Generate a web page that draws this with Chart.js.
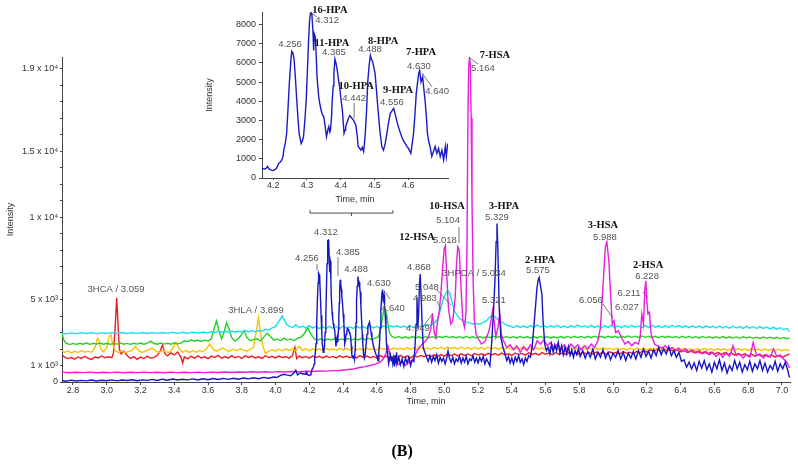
<!DOCTYPE html>
<html>
<head>
<meta charset="utf-8">
<title>Chromatogram (B)</title>
<script src="https://cdn.jsdelivr.net/npm/chart.js@4.4.1/dist/chart.umd.min.js"></script>
<style>
  html, body { margin: 0; padding: 0; background: #fff; }
  #wrap { position: relative; width: 798px; height: 464px; }
  #main { position: absolute; left: 0; top: 0; }
  #inset { position: absolute; left: 196px; top: 0; }
</style>
</head>
<body>
<div id="wrap">
  <canvas id="main" width="798" height="464"></canvas>
  <canvas id="inset" width="264" height="215"></canvas>
</div>
<script>
// ---- axis ticks ----
const timeTicks = [2.8, 3.0, 3.2, 3.4, 3.6, 3.8, 4.0, 4.2, 4.4, 4.6, 4.8, 5.0, 5.2, 5.4, 5.6, 5.8, 6.0, 6.2, 6.4, 6.6, 6.8, 7.0];
const intensityTicks = [0, 1000, 5000, 10000, 14000, 19000];
const intensityTickLabels = ['0', '1 x 10³', '5 x 10³', '1 x 10⁴', '1.5 x 10⁴', '1.9 x 10⁴'];
const insetTimeTicks = [4.2, 4.3, 4.4, 4.5, 4.6];
const insetIntensityTicks = [0, 1000, 2000, 3000, 4000, 5000, 6000, 7000, 8000];

// ---- traces: [time (min), intensity] ----
const redTrace = [[2.735,1650],[2.75,1500],[2.77,1420],[2.79,1480],[2.81,1380],[2.83,1520],[2.85,1430],[2.87,1560],[2.89,1440],[2.91,1370],[2.93,1510],[2.95,1460],[2.97,1580],[2.99,1470],[3.01,1530],[3.03,1480],[3.04,1750],[3.05,3300],[3.059,5100],[3.067,3500],[3.075,2000],[3.085,1700],[3.1,1880],[3.12,1620],[3.14,1430],[3.16,1540],[3.18,1370],[3.2,1510],[3.22,1420],[3.24,1560],[3.26,1450],[3.28,1490],[3.3,1620],[3.315,1850],[3.33,2250],[3.345,1720],[3.36,1580],[3.38,1760],[3.4,1640],[3.42,1820],[3.44,1500],[3.45,1150],[3.46,1520],[3.48,1400],[3.5,1560],[3.52,1450],[3.54,1590],[3.56,1460],[3.58,1530],[3.6,1420],[3.62,1570],[3.64,1480],[3.66,1610],[3.68,1440],[3.7,1540],[3.72,1450],[3.74,1600],[3.76,1470],[3.78,1550],[3.8,1430],[3.82,1590],[3.84,1490],[3.86,1570],[3.88,1460],[3.9,1530],[3.92,1430],[3.94,1590],[3.96,1480],[3.98,1560],[4.0,1460],[4.02,1570],[4.04,1490],[4.06,1540],[4.08,1450],[4.1,1590],[4.115,2100],[4.125,1420],[4.14,1570],[4.16,1470],[4.18,1550],[4.2,1450],[4.22,1580],[4.24,1490],[4.26,1560],[4.28,1460],[4.3,1570],[4.32,1480],[4.34,1550],[4.36,1460],[4.38,1590],[4.4,1490],[4.42,1570],[4.44,1470],[4.46,1560],[4.48,1460],[4.5,1600],[4.52,1490],[4.54,1570],[4.56,1470],[4.58,1550],[4.6,1460],[4.62,1610],[4.64,1490],[4.66,1570],[4.68,1410],[4.7,1560],[4.72,1470],[4.74,1610],[4.76,1490],[4.78,1570],[4.8,1460],[4.82,1600],[4.84,1510],[4.86,1610],[4.88,1530],[4.9,1630],[4.92,1540],[4.94,1650],[4.96,1550],[4.98,1660],[5.0,1570],[5.02,1710],[5.04,1590],[5.06,1690],[5.08,1580],[5.1,1710],[5.12,1610],[5.14,1700],[5.16,1590],[5.18,1730],[5.2,1630],[5.22,1710],[5.24,1610],[5.26,1740],[5.28,1640],[5.3,1720],[5.32,1620],[5.34,1750],[5.36,1650],[5.38,1710],[5.4,1610],[5.42,1760],[5.44,1660],[5.46,1730],[5.48,1630],[5.5,1770],[5.52,1670],[5.54,1740],[5.56,1640],[5.58,1780],[5.6,1680],[5.62,1750],[5.64,1650],[5.66,1790],[5.68,1690],[5.7,1760],[5.72,1660],[5.74,1800],[5.76,1700],[5.78,1770],[5.8,1670],[5.82,1810],[5.84,1710],[5.86,1780],[5.88,1680],[5.9,1820],[5.92,1720],[5.94,1790],[5.96,1690],[5.98,1830],[6.0,1730],[6.02,1800],[6.04,1700],[6.06,1840],[6.08,1740],[6.1,1810],[6.12,1710],[6.14,1860],[6.16,1770],[6.18,1910],[6.2,1810],[6.22,1960],[6.24,1850],[6.26,1990],[6.28,1870],[6.3,2010],[6.32,1890],[6.34,1970],[6.36,1850],[6.38,1950],[6.4,1830],[6.42,1910],[6.44,1790],[6.46,1890],[6.48,1770],[6.5,1860],[6.52,1740],[6.54,1830],[6.56,1710],[6.58,1810],[6.6,1690],[6.62,1790],[6.64,1670],[6.66,1770],[6.68,1650],[6.7,1750],[6.72,1630],[6.74,1730],[6.76,1610],[6.78,1710],[6.8,1590],[6.82,1690],[6.84,1570],[6.86,1670],[6.88,1550],[6.9,1650],[6.92,1530],[6.94,1630],[6.96,1510],[6.98,1610],[7.0,1490],[7.02,1590],[7.045,1700]];

const yellowTrace = [[2.735,1900],[2.75,1790],[2.77,1880],[2.79,1760],[2.81,1860],[2.83,1790],[2.85,1910],[2.87,1810],[2.89,1870],[2.91,1800],[2.93,2080],[2.945,2650],[2.955,2480],[2.965,2000],[2.98,1840],[3.0,2060],[3.015,2750],[3.025,2860],[3.035,2300],[3.05,1900],[3.07,1790],[3.09,1880],[3.11,1770],[3.13,1860],[3.15,1920],[3.17,2150],[3.19,1900],[3.21,1790],[3.23,1880],[3.25,1960],[3.27,2060],[3.29,1870],[3.31,1790],[3.33,1910],[3.35,1840],[3.37,1790],[3.39,2010],[3.41,2420],[3.43,1990],[3.45,1810],[3.47,1910],[3.49,1790],[3.51,1890],[3.53,1810],[3.55,1910],[3.57,1830],[3.59,2010],[3.61,2300],[3.63,1990],[3.65,1870],[3.67,1960],[3.69,2060],[3.71,1910],[3.73,1870],[3.75,1990],[3.77,1890],[3.79,2010],[3.81,1930],[3.83,1870],[3.85,1970],[3.87,2120],[3.885,3000],[3.899,3900],[3.91,3000],[3.925,2200],[3.94,1740],[3.96,1860],[3.98,1960],[4.0,1870],[4.02,1990],[4.04,1890],[4.06,2010],[4.08,1910],[4.1,2000],[4.12,1890],[4.14,2170],[4.16,1910],[4.18,2010],[4.2,1890],[4.22,2030],[4.24,1930],[4.26,2010],[4.28,1910],[4.3,2030],[4.32,1940],[4.34,2010],[4.36,1920],[4.38,2040],[4.4,1940],[4.42,2030],[4.44,1930],[4.46,2050],[4.48,1950],[4.5,2010],[4.52,1930],[4.54,2060],[4.56,1960],[4.58,2030],[4.6,1940],[4.62,2070],[4.64,1970],[4.66,2050],[4.68,1950],[4.7,2070],[4.72,1980],[4.74,2060],[4.76,1960],[4.78,2090],[4.8,1990],[4.82,2070],[4.84,1970],[4.86,2090],[4.88,1990],[4.9,2080],[4.92,1980],[4.94,2100],[4.96,2000],[4.98,2110],[5.0,2010],[5.02,2120],[5.04,2020],[5.06,2100],[5.08,2000],[5.1,2110],[5.12,2010],[5.14,2090],[5.16,1990],[5.18,2100],[5.2,2000],[5.22,2090],[5.24,1990],[5.26,2110],[5.28,2010],[5.3,2090],[5.32,1990],[5.34,2100],[5.36,2000],[5.38,2080],[5.4,1980],[5.42,2090],[5.44,1990],[5.46,2070],[5.48,1970],[5.5,2080],[5.52,1980],[5.54,2090],[5.56,1990],[5.58,2070],[5.6,1970],[5.62,2080],[5.64,1980],[5.66,2060],[5.68,1960],[5.7,2070],[5.72,1970],[5.74,2080],[5.76,1980],[5.78,2060],[5.8,1960],[5.82,2070],[5.84,1970],[5.86,2050],[5.88,1950],[5.9,2060],[5.92,1960],[5.94,2070],[5.96,1970],[5.98,2050],[6.0,1950],[6.02,2060],[6.04,1960],[6.06,2040],[6.08,1940],[6.1,2050],[6.12,1950],[6.14,2060],[6.16,1960],[6.18,2040],[6.2,1940],[6.22,2050],[6.24,1950],[6.26,2030],[6.28,1930],[6.3,2040],[6.32,1940],[6.34,2050],[6.36,1950],[6.38,2030],[6.4,1930],[6.42,2040],[6.44,1940],[6.46,2020],[6.48,1920],[6.5,2030],[6.52,1930],[6.54,2040],[6.56,1940],[6.58,2020],[6.6,1920],[6.62,2030],[6.64,1930],[6.66,2010],[6.68,1910],[6.7,2020],[6.72,1920],[6.74,2030],[6.76,1930],[6.78,2010],[6.8,1910],[6.82,2020],[6.84,1920],[6.86,2000],[6.88,1900],[6.9,2010],[6.92,1910],[6.94,2000],[6.96,1900],[6.98,1990],[7.0,1890],[7.02,1980],[7.045,1880]];

const greenTrace = [[2.735,2950],[2.745,2550],[2.76,2350],[2.78,2270],[2.8,2340],[2.82,2280],[2.84,2350],[2.86,2290],[2.88,2360],[2.9,2280],[2.92,2340],[2.94,2300],[2.96,2360],[2.98,2290],[3.0,2350],[3.02,2280],[3.04,2340],[3.06,2300],[3.08,2370],[3.1,2290],[3.12,2340],[3.14,2280],[3.16,2350],[3.18,2300],[3.2,2360],[3.22,2290],[3.24,2350],[3.26,2480],[3.28,2330],[3.3,2290],[3.32,2360],[3.34,2300],[3.36,2350],[3.38,2290],[3.4,2360],[3.42,2310],[3.44,2360],[3.46,2500],[3.48,2450],[3.5,2560],[3.52,2470],[3.54,2540],[3.56,2460],[3.58,2550],[3.6,2480],[3.62,2620],[3.635,3200],[3.65,3700],[3.665,3100],[3.68,2620],[3.695,3000],[3.71,3600],[3.725,3200],[3.74,2700],[3.76,2480],[3.78,2620],[3.8,2900],[3.815,3100],[3.83,2700],[3.85,2500],[3.87,2580],[3.89,2620],[3.91,2490],[3.93,2720],[3.95,2960],[3.97,2760],[3.99,2540],[4.01,2610],[4.03,2500],[4.05,2660],[4.07,2540],[4.09,2610],[4.11,2500],[4.13,2660],[4.15,2710],[4.17,2920],[4.19,3300],[4.21,2900],[4.23,2610],[4.25,2540],[4.27,2620],[4.29,2520],[4.31,2600],[4.33,2540],[4.35,2630],[4.37,2530],[4.39,2610],[4.41,2550],[4.43,2640],[4.45,2540],[4.47,2620],[4.49,2550],[4.51,2650],[4.53,2560],[4.55,2640],[4.57,2570],[4.59,2660],[4.61,2750],[4.625,3300],[4.635,4000],[4.645,4550],[4.655,4300],[4.665,3600],[4.675,3000],[4.69,2760],[4.71,2680],[4.73,2760],[4.75,2660],[4.77,2740],[4.79,2650],[4.81,2750],[4.83,2670],[4.85,2740],[4.87,2660],[4.89,2760],[4.91,2680],[4.93,2750],[4.95,2670],[4.97,2760],[4.99,2690],[5.01,2770],[5.03,2690],[5.05,2760],[5.07,2680],[5.09,2750],[5.11,2670],[5.13,2760],[5.15,2680],[5.17,2740],[5.19,2660],[5.21,2750],[5.23,2670],[5.25,2760],[5.27,2690],[5.29,2780],[5.31,2700],[5.33,2770],[5.35,2690],[5.37,2760],[5.39,2680],[5.41,2750],[5.43,2670],[5.45,2760],[5.47,2680],[5.49,2740],[5.51,2660],[5.53,2750],[5.55,2670],[5.57,2760],[5.59,2680],[5.61,2750],[5.63,2670],[5.65,2740],[5.67,2660],[5.69,2750],[5.71,2670],[5.73,2760],[5.75,2680],[5.77,2770],[5.79,2690],[5.81,2760],[5.83,2680],[5.85,2770],[5.87,2690],[5.89,2780],[5.91,2700],[5.93,2770],[5.95,2690],[5.97,2780],[5.99,2700],[6.01,2770],[6.03,2690],[6.05,2780],[6.07,2700],[6.09,2790],[6.11,2710],[6.13,2780],[6.15,2700],[6.17,2790],[6.19,2710],[6.21,2780],[6.23,2700],[6.25,2770],[6.27,2690],[6.29,2780],[6.31,2700],[6.33,2770],[6.35,2690],[6.37,2760],[6.39,2680],[6.41,2770],[6.43,2690],[6.45,2760],[6.47,2680],[6.49,2750],[6.51,2670],[6.53,2760],[6.55,2680],[6.57,2750],[6.59,2670],[6.61,2740],[6.63,2660],[6.65,2750],[6.67,2670],[6.69,2740],[6.71,2660],[6.73,2730],[6.75,2650],[6.77,2740],[6.79,2660],[6.81,2730],[6.83,2650],[6.85,2720],[6.87,2640],[6.89,2730],[6.91,2650],[6.93,2720],[6.95,2640],[6.97,2710],[6.99,2630],[7.01,2700],[7.03,2620],[7.045,2680]];

const cyanTrace = [[2.735,2960],[2.76,2920],[2.79,2980],[2.82,2930],[2.85,2990],[2.88,2940],[2.91,2990],[2.94,2930],[2.97,2980],[3.0,2940],[3.03,2990],[3.06,2950],[3.09,3000],[3.12,2940],[3.15,2990],[3.18,2950],[3.21,3000],[3.24,2940],[3.27,2990],[3.3,2950],[3.33,3000],[3.36,2950],[3.39,3010],[3.42,2960],[3.45,3010],[3.48,2960],[3.51,3020],[3.54,2970],[3.57,3020],[3.6,2980],[3.62,3060],[3.64,2990],[3.66,3080],[3.68,3000],[3.7,3070],[3.72,3010],[3.74,3090],[3.76,3020],[3.78,3080],[3.8,3030],[3.82,3120],[3.84,3050],[3.86,3110],[3.88,3040],[3.9,3120],[3.92,3080],[3.94,3200],[3.96,3150],[3.98,3280],[4.0,3350],[4.015,3600],[4.03,3850],[4.04,4000],[4.05,3800],[4.065,3500],[4.08,3380],[4.1,3300],[4.12,3460],[4.14,3300],[4.16,3380],[4.18,3270],[4.2,3420],[4.22,3280],[4.24,3360],[4.26,3230],[4.28,3350],[4.3,3240],[4.32,3370],[4.34,3260],[4.36,3350],[4.38,3240],[4.4,3380],[4.42,3260],[4.44,3340],[4.46,3250],[4.48,3370],[4.5,3270],[4.52,3360],[4.54,3250],[4.56,3380],[4.58,3280],[4.6,3370],[4.62,3260],[4.64,3400],[4.66,3300],[4.68,3420],[4.7,3330],[4.72,3410],[4.74,3310],[4.76,3400],[4.78,3300],[4.8,3380],[4.82,3290],[4.84,3330],[4.86,3380],[4.88,3420],[4.9,3480],[4.92,3450],[4.94,3560],[4.96,3800],[4.975,4300],[4.99,4900],[5.005,5300],[5.02,5550],[5.03,5450],[5.045,4900],[5.06,4300],[5.075,4050],[5.09,3850],[5.11,3720],[5.13,3640],[5.15,3580],[5.17,3520],[5.19,3540],[5.21,3500],[5.23,3620],[5.25,3720],[5.27,3950],[5.29,4050],[5.31,3850],[5.33,3700],[5.35,3560],[5.37,3450],[5.39,3380],[5.41,3300],[5.43,3420],[5.45,3310],[5.47,3400],[5.49,3290],[5.51,3420],[5.53,3320],[5.55,3450],[5.57,3330],[5.59,3420],[5.61,3300],[5.63,3410],[5.65,3320],[5.67,3440],[5.69,3310],[5.71,3400],[5.73,3290],[5.75,3420],[5.77,3320],[5.79,3450],[5.81,3330],[5.83,3410],[5.85,3300],[5.87,3430],[5.89,3310],[5.91,3400],[5.93,3290],[5.95,3420],[5.97,3310],[5.99,3430],[6.01,3320],[6.03,3400],[6.05,3290],[6.07,3420],[6.09,3310],[6.11,3440],[6.13,3320],[6.15,3400],[6.17,3300],[6.19,3420],[6.21,3310],[6.23,3430],[6.25,3320],[6.27,3410],[6.29,3300],[6.31,3420],[6.33,3310],[6.35,3440],[6.37,3330],[6.39,3420],[6.41,3300],[6.43,3400],[6.45,3290],[6.47,3410],[6.49,3300],[6.51,3390],[6.53,3280],[6.55,3400],[6.57,3290],[6.59,3380],[6.61,3270],[6.63,3390],[6.65,3280],[6.67,3370],[6.69,3260],[6.71,3380],[6.73,3270],[6.75,3360],[6.77,3250],[6.79,3370],[6.81,3260],[6.83,3350],[6.85,3240],[6.87,3360],[6.89,3250],[6.91,3330],[6.93,3220],[6.95,3310],[6.97,3200],[6.99,3290],[7.01,3180],[7.03,3250],[7.045,3050]];

const magentaTrace = [[2.735,600],[2.78,560],[2.82,590],[2.86,570],[2.9,600],[2.94,560],[2.98,590],[3.02,570],[3.06,600],[3.1,560],[3.14,590],[3.18,570],[3.22,600],[3.26,570],[3.3,590],[3.34,560],[3.38,600],[3.42,570],[3.46,590],[3.5,570],[3.54,600],[3.58,570],[3.62,600],[3.66,580],[3.7,610],[3.74,580],[3.78,610],[3.82,590],[3.86,620],[3.9,590],[3.94,620],[3.98,600],[4.02,630],[4.06,610],[4.1,640],[4.14,620],[4.18,650],[4.22,640],[4.26,670],[4.3,660],[4.34,690],[4.38,700],[4.42,740],[4.46,790],[4.5,880],[4.53,930],[4.56,1000],[4.59,1080],[4.62,1200],[4.64,1420],[4.655,1750],[4.665,2200],[4.675,1800],[4.69,1350],[4.71,1200],[4.73,1050],[4.75,1250],[4.77,1000],[4.79,1200],[4.81,1280],[4.83,1700],[4.85,2100],[4.87,2300],[4.89,2500],[4.905,2700],[4.92,3200],[4.93,4130],[4.94,3000],[4.95,2700],[4.96,3700],[4.97,4300],[4.98,5400],[4.992,7200],[5.0,8100],[5.006,8270],[5.014,6600],[5.024,4520],[5.038,3510],[5.05,3710],[5.065,5200],[5.073,7300],[5.08,8200],[5.088,8000],[5.1,5520],[5.11,3710],[5.12,3310],[5.128,4200],[5.134,8000],[5.139,15000],[5.144,19000],[5.149,19650],[5.154,19300],[5.159,16000],[5.164,11000],[5.171,6000],[5.178,3800],[5.188,2900],[5.2,2650],[5.22,2300],[5.24,2450],[5.25,2700],[5.265,3100],[5.278,3800],[5.286,4350],[5.295,3700],[5.305,2750],[5.318,3300],[5.328,4150],[5.338,2900],[5.35,2500],[5.37,2090],[5.39,2250],[5.41,1950],[5.43,2200],[5.45,1800],[5.47,2150],[5.49,1900],[5.51,2250],[5.53,1950],[5.55,2500],[5.57,2300],[5.59,2550],[5.61,2200],[5.63,2400],[5.65,2050],[5.67,2300],[5.69,2000],[5.71,2250],[5.73,1950],[5.75,2300],[5.77,2050],[5.79,2250],[5.81,1950],[5.83,2200],[5.85,2000],[5.87,2300],[5.89,2100],[5.91,2500],[5.925,3300],[5.942,6140],[5.954,8170],[5.963,8480],[5.975,7300],[5.986,5130],[5.995,3510],[6.005,3710],[6.015,3000],[6.03,3110],[6.05,2700],[6.07,2300],[6.09,2450],[6.11,2200],[6.13,2400],[6.15,2300],[6.16,2700],[6.17,4130],[6.18,3510],[6.188,5600],[6.194,6140],[6.2,4900],[6.206,4130],[6.215,4230],[6.225,2900],[6.245,2300],[6.27,2150],[6.29,2050],[6.31,2200],[6.33,1950],[6.35,2100],[6.37,1900],[6.39,2050],[6.41,1850],[6.43,2000],[6.45,1800],[6.47,1950],[6.49,1750],[6.51,1900],[6.53,1700],[6.55,1850],[6.57,1650],[6.59,1800],[6.61,1550],[6.63,1750],[6.65,1500],[6.67,1800],[6.69,1550],[6.71,2200],[6.73,1600],[6.75,1700],[6.77,1450],[6.79,1650],[6.81,1500],[6.83,2400],[6.85,1600],[6.87,1700],[6.89,1450],[6.91,1650],[6.93,1500],[6.95,2000],[6.97,1550],[6.99,1650],[7.01,1400],[7.03,1200],[7.045,850]];

const blueStart = [[2.735,90],[2.76,50],[2.79,110],[2.82,60],[2.85,100],[2.88,70],[2.91,120],[2.94,60],[2.97,110],[3.0,80],[3.03,130],[3.06,70],[3.09,120],[3.12,90],[3.15,140],[3.18,80],[3.21,130],[3.24,100],[3.27,160],[3.3,90],[3.33,170],[3.36,110],[3.39,180],[3.42,120],[3.45,170],[3.48,130],[3.51,190],[3.54,120],[3.57,200],[3.6,140],[3.63,210],[3.66,150],[3.69,220],[3.72,160],[3.75,230],[3.78,170],[3.81,240],[3.84,190],[3.87,260],[3.9,200],[3.93,280],[3.96,230],[3.99,300],[4.01,280],[4.03,400],[4.05,470],[4.07,420],[4.09,380],[4.11,560],[4.12,720],[4.13,430],[4.15,560],[4.16,480]];

// 4.17 - 4.72 min window, also shown enlarged in the inset
const insetTrace = [[4.167,500],[4.175,470],[4.18,510],[4.183,600],[4.19,450],[4.195,410],[4.2,390],[4.205,430],[4.21,500],[4.216,750],[4.222,850],[4.225,930],[4.229,1100],[4.232,1500],[4.236,1800],[4.24,2330],[4.244,3600],[4.248,4930],[4.252,6000],[4.255,6600],[4.259,6500],[4.262,6200],[4.266,5200],[4.27,4050],[4.274,3000],[4.277,2330],[4.283,1800],[4.287,1950],[4.29,2150],[4.294,3000],[4.298,4050],[4.302,5800],[4.305,7170],[4.308,8200],[4.31,8560],[4.313,8600],[4.315,8450],[4.318,7600],[4.32,6650],[4.322,7500],[4.325,7340],[4.328,6200],[4.33,5270],[4.335,4230],[4.338,3900],[4.342,3540],[4.346,3300],[4.35,3190],[4.354,2700],[4.358,2150],[4.362,2500],[4.365,2680],[4.368,2400],[4.37,2500],[4.373,3200],[4.375,4050],[4.378,4800],[4.38,5440],[4.383,6200],[4.386,6000],[4.39,5610],[4.393,5200],[4.397,4750],[4.401,4100],[4.405,3540],[4.41,2330],[4.413,2500],[4.415,2680],[4.419,2900],[4.423,3100],[4.427,3250],[4.43,3190],[4.434,3100],[4.438,3020],[4.441,2900],[4.445,2760],[4.449,2200],[4.452,1640],[4.456,1550],[4.46,1450],[4.464,1600],[4.468,1380],[4.471,1900],[4.473,2330],[4.477,3600],[4.48,4930],[4.484,5800],[4.488,6390],[4.491,6200],[4.495,6040],[4.499,5700],[4.502,5440],[4.506,4600],[4.51,3710],[4.514,2900],[4.517,2330],[4.522,1630],[4.527,1450],[4.532,1800],[4.537,2330],[4.542,2900],[4.547,3370],[4.552,3500],[4.557,3630],[4.561,3370],[4.566,3000],[4.571,2670],[4.576,2400],[4.581,2150],[4.586,1950],[4.591,1800],[4.596,1650],[4.601,1540],[4.608,1280],[4.612,1800],[4.616,2330],[4.62,3300],[4.624,4400],[4.628,5000],[4.631,5440],[4.634,5610],[4.638,5000],[4.643,5270],[4.646,4700],[4.65,4050],[4.654,3200],[4.657,2330],[4.661,1900],[4.665,1640],[4.67,1120],[4.675,1380],[4.68,1640],[4.685,1280],[4.69,1540],[4.695,1120],[4.7,1450],[4.705,940],[4.71,1640],[4.713,1120],[4.717,1800]];

const blueEnd = [[4.72,1100],[4.73,1500],[4.74,1050],[4.75,1400],[4.76,950],[4.77,1450],[4.78,1150],[4.79,1500],[4.8,1000],[4.81,1350],[4.82,1250],[4.826,2090],[4.833,3500],[4.838,5130],[4.843,3300],[4.848,4200],[4.853,6000],[4.857,6550],[4.862,5400],[4.868,3700],[4.875,2090],[4.885,1780],[4.895,1500],[4.905,1250],[4.915,1600],[4.925,1200],[4.935,1550],[4.945,1300],[4.955,1650],[4.965,1150],[4.975,1500],[4.985,1250],[4.995,1450],[5.005,1100],[5.015,1500],[5.022,1880],[5.03,1450],[5.04,1200],[5.05,1500],[5.06,1100],[5.07,1400],[5.08,1250],[5.09,1550],[5.1,1150],[5.11,1450],[5.12,1200],[5.13,1550],[5.14,1100],[5.15,1400],[5.16,1300],[5.17,1600],[5.18,1200],[5.19,1450],[5.2,1150],[5.21,1500],[5.22,1250],[5.23,1550],[5.24,1100],[5.25,1400],[5.26,1200],[5.27,970],[5.28,2300],[5.29,4000],[5.3,6140],[5.307,8500],[5.312,9600],[5.317,8170],[5.325,4520],[5.335,2700],[5.345,2200],[5.36,1680],[5.37,1300],[5.38,1550],[5.39,1150],[5.4,1450],[5.41,1100],[5.42,1500],[5.43,1250],[5.44,1600],[5.45,1200],[5.46,1400],[5.47,1050],[5.48,1450],[5.49,1250],[5.5,1600],[5.51,1500],[5.52,2090],[5.53,3300],[5.54,4520],[5.548,5600],[5.555,6140],[5.562,6340],[5.57,5800],[5.578,5330],[5.585,3710],[5.595,2300],[5.605,1900],[5.615,2090],[5.625,1700],[5.635,2300],[5.645,1800],[5.655,2250],[5.665,1900],[5.675,2400],[5.685,1750],[5.695,2200],[5.705,1650],[5.715,2100],[5.725,1700],[5.735,2150],[5.745,1600],[5.755,1950],[5.765,1500],[5.775,1900],[5.785,1650],[5.795,2000],[5.805,1550],[5.82,1900],[5.835,1450],[5.85,1850],[5.865,1500],[5.88,2000],[5.895,1400],[5.91,1800],[5.925,1500],[5.94,1950],[5.955,1450],[5.97,1800],[5.985,1350],[6.0,1750],[6.015,1500],[6.03,1900],[6.045,1400],[6.06,1800],[6.075,1300],[6.09,1750],[6.105,1450],[6.12,1850],[6.135,1400],[6.15,1900],[6.165,1500],[6.18,2000],[6.195,1550],[6.21,1850],[6.225,1450],[6.24,1950],[6.255,1600],[6.27,2100],[6.285,1650],[6.3,2000],[6.315,1700],[6.33,2150],[6.345,1600],[6.36,1900],[6.375,1500],[6.39,1800],[6.405,1250],[6.42,1350],[6.435,900],[6.45,1200],[6.465,800],[6.48,1150],[6.495,700],[6.51,1250],[6.525,850],[6.54,1300],[6.555,750],[6.57,1100],[6.585,600],[6.6,1200],[6.615,800],[6.63,1350],[6.645,700],[6.66,1150],[6.675,550],[6.69,1000],[6.705,700],[6.72,1300],[6.735,800],[6.75,1200],[6.765,600],[6.78,1050],[6.795,750],[6.81,1250],[6.825,650],[6.84,1100],[6.855,800],[6.87,1300],[6.885,700],[6.9,1150],[6.915,600],[6.93,1000],[6.945,750],[6.96,1250],[6.975,650],[6.99,1100],[7.005,800],[7.02,1200],[7.035,700],[7.045,260]];

const blueTrace = blueStart.concat(insetTrace, blueEnd);

// ---- peak annotations: [time, intensity, text, bold] ----
const mainLabels = [
  [3.055, 5636, '3HCA / 3.059'], [3.884, 4363, '3HLA / 3.899'],
  [4.186, 7514, '4.256'], [4.299, 9090, '4.312'], [4.429, 7878, '4.385'], [4.477, 6848, '4.488'],
  [4.613, 6000, '4.630'], [4.696, 4484, '4.640'], [4.85, 6969, '4.868'], [4.897, 5757, '5.048'],
  [4.885, 5090, '4.983'], [4.844, 3272, '4.949'],
  [4.838, 8787, '12-HSA', true], [5.004, 8605, '5.018'],
  [5.016, 10666, '10-HSA', true], [5.022, 9817, '5.104'],
  [5.176, 6605, '3HPDA / 5.034'],
  [5.30, 19816, '7-HSA', true], [5.229, 19028, '5.164'],
  [5.353, 10666, '3-HPA', true], [5.312, 9999, '5.329'], [5.294, 4969, '5.321'],
  [5.567, 7393, '2-HPA', true], [5.555, 6787, '5.575'],
  [5.94, 9514, '3-HSA', true], [5.952, 8787, '5.988'], [5.869, 4969, '6.056'], [6.082, 4545, '6.027'],
  [6.207, 7090, '2-HSA', true], [6.201, 6424, '6.228'], [6.094, 5393, '6.211']
];
const mainLeaders = [
  [4.246, 7151, 4.246, 6787], [4.37, 7575, 4.37, 6424], [4.643, 5515, 4.678, 5030],
  [4.874, 3333, 4.933, 4181], [4.957, 5575, 5.04, 4666], [4.957, 4909, 4.98, 4424],
  [5.087, 9393, 5.087, 8423], [5.152, 19634, 5.2, 19271], [5.94, 4727, 5.999, 3878],
  [6.177, 5454, 6.207, 5090]
];
const insetLabels = [
  [4.368, 8754, '16-HPA', true], [4.360, 8233, '4.312'], [4.250, 6983, '4.256'],
  [4.374, 7035, '11-HPA', true], [4.380, 6566, '4.385'],
  [4.526, 7139, '8-HPA', true], [4.487, 6722, '4.488'],
  [4.446, 4794, '10-HPA', true], [4.440, 4169, '4.442'],
  [4.570, 4586, '9-HPA', true], [4.552, 3960, '4.556'],
  [4.638, 6566, '7-HPA', true], [4.632, 5836, '4.630'], [4.686, 4534, '4.640']
];
const insetLeaders = [
  [4.44, 3908, 4.44, 3127], [4.641, 5472, 4.671, 4742], [4.309, 8650, 4.330, 8390]
];

const sans = '"Liberation Sans", Arial, sans-serif';
const serif = '"Liberation Serif", "Times New Roman", serif';
const axisColor = '#444';
const textColor = '#333';

const peakLabels = {
  id: 'peakLabels',
  afterDatasetsDraw(chart, args, opts) {
    const { ctx, scales: { x, y } } = chart;
    ctx.save();
    ctx.strokeStyle = '#555';
    ctx.lineWidth = 0.8;
    (opts.leaders || []).forEach(([t1, v1, t2, v2]) => {
      ctx.beginPath();
      ctx.moveTo(x.getPixelForValue(t1), y.getPixelForValue(v1));
      ctx.lineTo(x.getPixelForValue(t2), y.getPixelForValue(v2));
      ctx.stroke();
    });
    if (opts.bracket) {
      const [t1, t2, v] = opts.bracket;
      const x1 = x.getPixelForValue(t1), x2 = x.getPixelForValue(t2), yy = y.getPixelForValue(v);
      const xm = (x1 + x2) / 2;
      ctx.strokeStyle = '#222';
      ctx.beginPath();
      ctx.moveTo(x1, yy - 3); ctx.lineTo(x1, yy); ctx.lineTo(x2, yy); ctx.lineTo(x2, yy - 3);
      ctx.moveTo(xm, yy); ctx.lineTo(xm, yy + 3);
      ctx.stroke();
    }
    ctx.textAlign = 'center';
    ctx.textBaseline = 'middle';
    (opts.labels || []).forEach(([t, v, text, bold]) => {
      ctx.font = bold ? 'bold 10.5px ' + serif : '9.5px ' + sans;
      ctx.fillStyle = bold ? '#111' : '#555';
      ctx.fillText(text, x.getPixelForValue(t), y.getPixelForValue(v));
    });
    if (opts.caption) {
      ctx.font = 'bold 16px ' + serif;
      ctx.fillStyle = '#000';
      ctx.fillText(opts.caption, chart.width * 0.504, chart.height - 12);
    }
    ctx.restore();
  }
};

function trace(points, color) {
  return {
    data: points.map(([x, y]) => ({ x, y })),
    borderColor: color,
    borderWidth: 1.4,
    pointRadius: 0,
    tension: 0,
    fill: false
  };
}

const baseFont = { family: sans, size: 9 };

// main chromatogram
new Chart(document.getElementById('main'), {
  type: 'line',
  data: {
    datasets: [
      trace(blueTrace, '#1616c2'),
      trace(magentaTrace, '#e81ede'),
      trace(cyanTrace, '#14dfec'),
      trace(greenTrace, '#22d122'),
      trace(yellowTrace, '#f9c200'),
      trace(redTrace, '#ee1c24')
    ]
  },
  options: {
    responsive: false,
    animation: false,
    layout: { padding: { left: 0, right: 8, top: 57, bottom: 0 } },
    plugins: {
      legend: { display: false },
      tooltip: { enabled: false },
      peakLabels: { labels: mainLabels, leaders: mainLeaders, bracket: [4.204, 4.696, 10241], caption: '(B)' }
    },
    scales: {
      x: {
        type: 'linear',
        min: 2.735,
        max: 7.048,
        afterBuildTicks: s => { s.ticks = timeTicks.map(v => ({ value: v })); },
        afterFit: s => { s.height = 82; },
        ticks: { autoSkip: false, maxRotation: 0, padding: 0, color: textColor, font: baseFont, callback: v => v.toFixed(1) },
        grid: { drawOnChartArea: false, tickLength: 3, color: axisColor },
        border: { color: axisColor },
        title: { display: true, text: 'Time, min', color: textColor, font: baseFont, padding: { top: 0, bottom: 57 } }
      },
      y: {
        min: 0,
        max: 19700,
        afterBuildTicks: s => {
          const t = [];
          for (let v = 0; v <= 19000; v += 1000) t.push({ value: v });
          s.ticks = t;
        },
        afterFit: s => { s.width = 62; },
        ticks: {
          autoSkip: false, padding: 2, color: textColor, font: baseFont,
          callback: v => { const i = intensityTicks.indexOf(v); return i >= 0 ? intensityTickLabels[i] : ''; }
        },
        grid: { drawOnChartArea: false, tickLength: 2, color: axisColor },
        border: { color: axisColor },
        title: { display: true, text: 'Intensity', color: textColor, font: baseFont, padding: { top: 5 } }
      }
    }
  },
  plugins: [peakLabels]
});

// inset: enlarged 4.17 - 4.72 min window of the blue trace
new Chart(document.getElementById('inset'), {
  type: 'line',
  data: { datasets: [trace(insetTrace, '#1a1ac6')] },
  options: {
    responsive: false,
    animation: false,
    layout: { padding: { left: 0, right: 12, top: 12, bottom: 0 } },
    plugins: {
      legend: { display: false },
      tooltip: { enabled: false },
      peakLabels: { labels: insetLabels, leaders: insetLeaders }
    },
    scales: {
      x: {
        type: 'linear',
        min: 4.167,
        max: 4.718,
        afterBuildTicks: s => { s.ticks = insetTimeTicks.map(v => ({ value: v })); },
        afterFit: s => { s.height = 37; },
        ticks: { autoSkip: false, maxRotation: 0, padding: 0, color: textColor, font: baseFont, callback: v => v.toFixed(1) },
        grid: { drawOnChartArea: false, tickLength: 2, color: axisColor },
        border: { color: axisColor },
        title: { display: true, text: 'Time, min', color: textColor, font: baseFont, padding: { top: 0, bottom: 10 } }
      },
      y: {
        min: 0,
        max: 8650,
        afterBuildTicks: s => { s.ticks = insetIntensityTicks.map(v => ({ value: v })); },
        afterFit: s => { s.width = 66; },
        ticks: { autoSkip: false, padding: 3, color: textColor, font: baseFont, callback: v => String(v) },
        grid: { drawOnChartArea: false, tickLength: 3, color: axisColor },
        border: { color: axisColor },
        title: { display: true, text: 'Intensity', color: textColor, font: baseFont, padding: { top: 8 } }
      }
    }
  },
  plugins: [peakLabels]
});
</script>
</body>
</html>
